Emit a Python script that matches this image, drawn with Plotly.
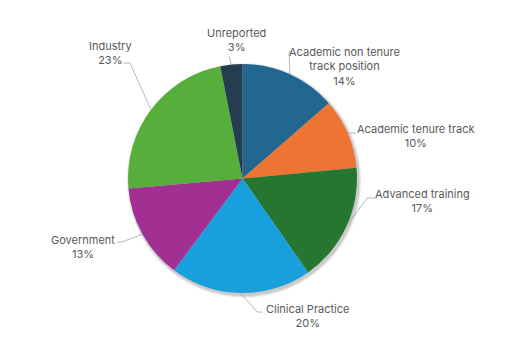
import math
import plotly.graph_objects as go

categories = ["Academic non tenure track position", "Academic tenure track", "Advanced training",
              "Clinical Practice", "Government", "Industry", "Unreported"]
label_text = ["Academic non tenure<br>track position", "Academic tenure track", "Advanced training",
              "Clinical Practice", "Government", "Industry", "Unreported"]
values = [13.6, 9.9, 16.8, 19.9, 13.4, 23.3, 3.1]
colors = ["#21678F", "#EE7433", "#267632", "#17A0DB", "#A13092", "#56AF3B", "#253C51"]

W, H = 525, 352
CX, CY, R = 242.5, 178.5, 114.5

# label layout (pixel centers) and leader elbows
label_pos = [(344, 66), (415.5, 135.5), (422, 201.5), (307, 315.5), (82.5, 246.5), (110, 52.5), (236.5, 40.5)]
elbows = [[(289, 52), (292, 51)], [(350, 133), (356, 133)], [(367, 198), (375, 198)],
          [(257, 312), (262, 312)], [(122, 242), (117, 242)], [(130, 63), (123, 63)], [(229, 56)]]

def px(x, y):
    return x / W, 1 - y / H

fig = go.Figure(go.Pie(
    labels=categories, values=values, sort=False, direction="clockwise", rotation=0,
    marker=dict(colors=colors, line=dict(width=0)), textinfo="none", hoverinfo="label+percent",
    domain=dict(x=[(CX - R) / W, (CX + R) / W], y=[(H - CY - R) / H, (H - CY + R) / H]),
    showlegend=False,
))

shapes = []
# soft shadow behind the pie
for d, a in [(3.0, 0.05), (2.0, 0.07), (1.0, 0.09)]:
    x0, y0 = px(CX - R + 1.5 - d, CY - R + 2 - d)
    x1, y1 = px(CX + R + 1.5 + d, CY + R + 2 + d)
    shapes.append(dict(type="circle", xref="paper", yref="paper", x0=x0, y0=y1, x1=x1, y1=y0,
                       fillcolor=f"rgba(0,0,0,{a})", line=dict(width=0), layer="below"))

total = sum(values)
cum = 0
annotations = []
for i, v in enumerate(values):
    mid = (cum + v / 2) / total * 2 * math.pi
    cum += v
    ex, ey = CX + R * math.sin(mid), CY - R * math.cos(mid)
    pts = [(ex, ey)] + elbows[i]
    path = "M " + " L ".join(f"{px(x, y)[0]:.5f},{px(x, y)[1]:.5f}" for x, y in pts)
    shapes.append(dict(type="path", path=path, xref="paper", yref="paper",
                       line=dict(color="#A6A6A6", width=0.8)))
    lx, ly = px(*label_pos[i])
    annotations.append(dict(x=lx, y=ly, xref="paper", yref="paper", showarrow=False,
                            text=f"{label_text[i]}<br>{round(v / total * 100)}%",
                            xanchor="center", yanchor="middle", align="center",
                            font=dict(family="Inter, Open Sans, sans-serif", size=11, color="#595959")))

fig.update_layout(width=W, height=H, margin=dict(l=0, r=0, t=0, b=0),
                  paper_bgcolor="white", plot_bgcolor="white",
                  shapes=shapes, annotations=annotations)
fig.write_html("out.html")
